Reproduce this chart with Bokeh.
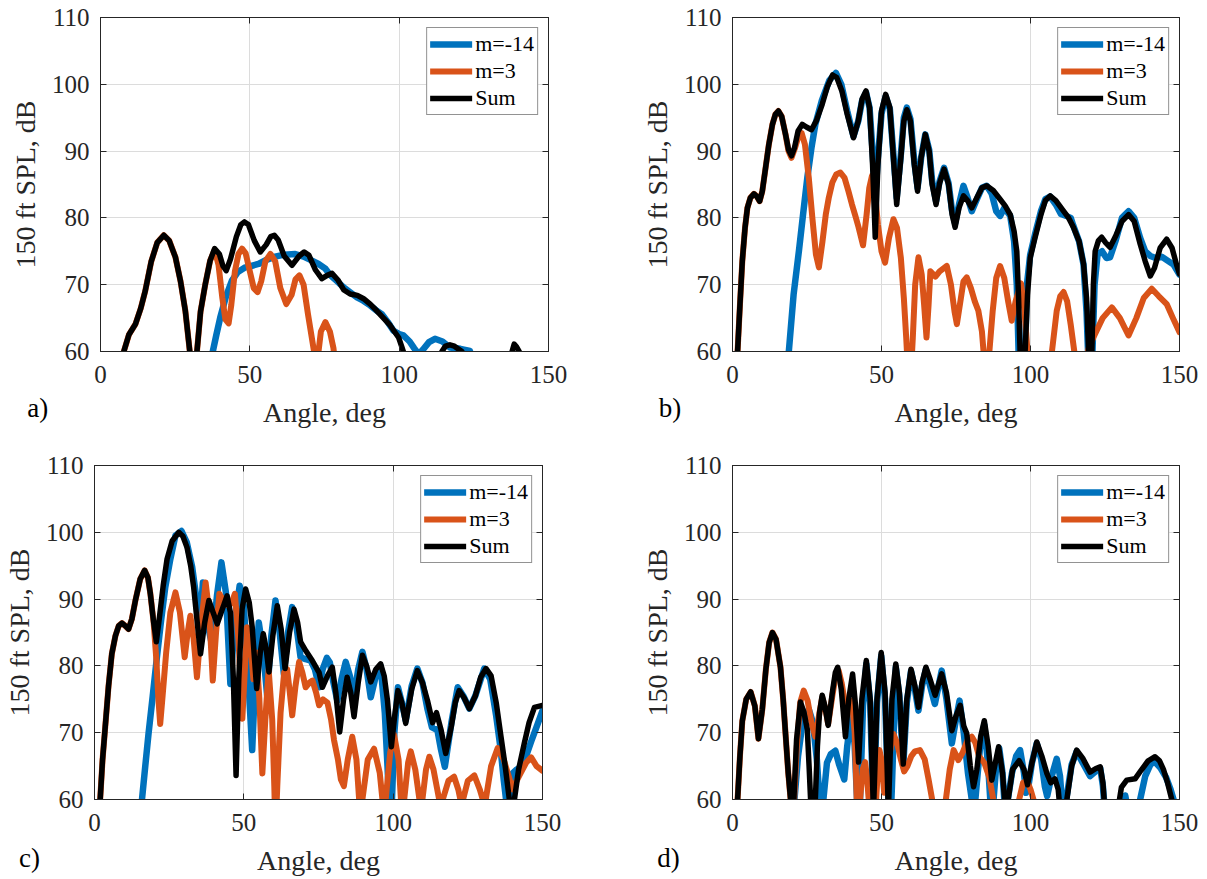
from bokeh.plotting import figure
from bokeh.layouts import column, row
from bokeh.models import LinearAxis, FixedTicker, Label, Range1d
from bokeh.embed import file_html
from bokeh.resources import INLINE

# ---------------------------------------------------------------------------
# 150 ft SPL (dB) versus polar angle (deg), four operating conditions a)-d).
# Each series is a list of (angle, SPL) pairs; values below 60 dB fall out of
# the plotted range.
# ---------------------------------------------------------------------------

A_M14 = [(36.5, 55), (37.6, 60), (38.8, 62.5), (40.1, 65.1), (42, 68.2), (44, 70.6), (46, 71.9),
         (48.5, 72.6), (50.5, 72.8), (52.9, 73.1), (55.5, 73.7), (58.5, 74.2), (61.5, 74.5),
         (65.2, 74.6), (68, 74.2), (70.8, 73.6), (73, 73.1), (75.3, 72.4), (77, 71.4), (79, 70.6),
         (81.4, 69.6), (83.5, 68.9), (85.9, 68.1), (88, 67.6), (90.3, 66.9), (92.2, 66.2),
         (94.2, 65.6), (96.2, 64.4), (98.1, 63.1), (100, 62.6), (101.4, 62.4), (103.5, 61.5),
         (105, 60.5), (106.5, 59.6), (108, 60.3), (110, 61.4), (112, 61.9), (114.5, 61.5),
         (117, 60.6), (120.5, 60.4), (123.7, 60.1), (124.5, 57)]
A_M3 = [(6.5, 55), (7.8, 60), (9.5, 62.5), (11.7, 64.1), (13.5, 66.5), (15, 69.1), (17, 73.5),
        (19, 76.3), (21.2, 77.4), (23, 76.6), (25.1, 74.1), (26.8, 70.5), (28.4, 66.1), (29.9, 60),
        (30.8, 52), (31.5, 52), (32.3, 60), (33.5, 66), (35.1, 70.1), (36.7, 73.6), (38.2, 75.2),
        (39.5, 73), (40.8, 68), (41.8, 64.8), (42.9, 64.2), (43.8, 67), (45, 72), (46.2, 74.6),
        (47.4, 75.4), (48.6, 74.7), (50, 72), (51.3, 69.5), (52.6, 68.9), (53.8, 70.5),
        (55.2, 73.5), (56.9, 74.6), (58.5, 73.5), (60.2, 69.5), (62.2, 67.1), (64, 68.5),
        (65.3, 70.8), (66.6, 71.4), (68, 70), (69.5, 65.5), (71.5, 60), (72.2, 57), (73, 60),
        (73.8, 63), (75.3, 64.4), (76.8, 63), (78, 60.5), (78.6, 58)]
A_SUM = [(6.5, 55), (7.8, 60), (9.5, 62.5), (11.7, 64.1), (13.5, 66.5), (15, 69.1), (17, 73.5),
         (19, 76.3), (21.2, 77.4), (23, 76.6), (25.1, 74.1), (26.8, 70.5), (28.4, 66.1),
         (29.9, 60), (30.8, 52), (31.5, 52), (32.3, 60), (33.5, 66), (35.1, 70.1), (36.7, 73.6),
         (38.2, 75.4), (39.8, 74.6), (41, 72.8), (42.1, 72.1), (43.5, 73.8), (45.5, 77.2),
         (47, 79), (48.2, 79.4), (49.5, 79), (51.5, 76.6), (53.5, 74.9), (55.5, 76), (57, 77.2),
         (58.2, 77.4), (59.5, 76.7), (61.5, 74.3), (64.1, 72.9), (66.5, 74.3), (68.2, 74.9),
         (69.8, 74.4), (72, 72.2), (74.1, 70.9), (75.9, 71.4), (77.5, 71.7), (79.5, 70.7),
         (81.5, 69.2), (83.6, 68.6), (86, 68.4), (88.1, 67.9), (90.3, 67.1), (92.5, 66.1),
         (95, 64.9), (97, 63.9), (99.8, 62.1), (100.8, 60.8), (101.4, 60), (102.5, 54),
         (108, 45), (113.5, 57), (114.3, 60), (115.5, 60.8), (117, 61.0), (118.5, 60.8),
         (121, 60), (122, 57), (130, 45), (137, 57), (137.8, 60), (138.5, 61.1), (139.3, 60.7),
         (140.2, 60), (141, 57)]

B_M14 = [(18.3, 52), (18.9, 60), (20.5, 68.5), (22.3, 75.1), (23.7, 80.6), (25.1, 86), (26.5, 90.5),
         (27.8, 94), (30, 97.6), (32.5, 100.6), (34.7, 101.7), (36.5, 100), (38.5, 96),
         (40.6, 92.2), (42.2, 94.5), (43.5, 97.6), (44.8, 98.8), (46, 96.5), (47, 90), (47.9, 83),
         (48.8, 89), (50, 95.6), (51.4, 98.2), (52.8, 96.3), (54, 89.5), (55.1, 83), (56.5, 89.5),
         (57.5, 95), (58.5, 96.5), (59.7, 94.8), (61, 88.5), (62.1, 84.5), (63.3, 89),
         (64.7, 92.5), (66, 90.2), (67, 85.5), (68.3, 82.5), (69.5, 85.5), (71, 87.5), (72.5, 85.2),
         (73.7, 81), (74.7, 79.2), (76, 82), (77.5, 84.8), (78.9, 83), (80.3, 81), (82, 82.8),
         (83.7, 84.5), (85.3, 84.8), (87, 83.6), (88.5, 81), (89.8, 80.3), (91.2, 81.5),
         (93.2, 80.3), (94.5, 76.5), (95.4, 70), (96, 60), (96.4, 52), (97.8, 52), (98.2, 60),
         (98.8, 70), (99.9, 74.5), (101.5, 77.5), (103.5, 81), (105, 82.8), (106.6, 83.2),
         (108.5, 82), (110.2, 80.6), (112, 80.3), (113.5, 80), (114.4, 78.8), (116.3, 76.5),
         (117.8, 73), (118.8, 66), (119.3, 60), (119.7, 52), (120.5, 52), (120.8, 60), (121.5, 70),
         (122.5, 74.5), (124, 75), (125.5, 74), (126.7, 74.1), (128.5, 76.5), (130.7, 80),
         (132.9, 81), (134.8, 80), (136.8, 77), (138.5, 75), (140.2, 74.3), (142, 74),
         (144, 74.2), (146, 73.6), (148, 73), (150, 71.5)]
B_M3 = [(1.2, 52), (1.7, 60), (2.5, 67), (3.3, 73.6), (4.2, 78.5), (5, 81.5), (6, 83), (7.2, 83.6),
        (8.2, 83.2), (9.1, 82.5), (10, 84), (11.1, 87.5), (12.2, 91), (13.4, 94), (14.4, 95.5),
        (15.4, 96), (16.5, 95.2), (17.8, 92.5), (18.8, 90), (19.8, 89), (21, 90.5), (22.2, 92.3),
        (23.2, 92.7), (24.3, 91), (25.6, 86), (26.8, 80), (28, 74.5), (29, 72.6), (30.2, 76.5),
        (31.3, 80.5), (32.3, 83), (33.5, 85.3), (34.8, 86.5), (36.2, 86.8), (37.6, 86),
        (38.9, 84), (40.1, 82), (41.3, 80.2), (42.3, 78.6), (43.8, 75.9), (45, 80.5), (45.9, 84.5),
        (46.8, 86.3), (47.8, 84), (48.8, 79), (50, 75), (51.2, 73.3), (52.5, 77), (54, 79.8),
        (55.2, 78.5), (56.5, 74), (57.5, 68), (58.3, 62), (59, 56), (59.8, 56), (60.5, 62),
        (61.3, 70), (62.4, 74.1), (63.5, 71.5), (64.3, 67), (65.1, 62.1), (65.8, 67), (66.4, 72),
        (68.1, 71.2), (69.5, 72), (71.9, 72.8), (73.3, 70), (74.5, 66), (75.3, 64.1), (76.3, 67),
        (77.5, 70.5), (78.6, 71.1), (80, 69.5), (81.3, 67.5), (82.5, 66.1), (83.7, 63),
        (84.6, 58), (85.3, 55), (86.2, 60), (87.3, 66), (88.5, 71), (89.8, 72.8), (91.2, 71),
        (92.5, 67.5), (93.7, 64.6), (95, 67.5), (96.8, 70.2), (98, 66), (99, 60), (99.6, 55),
        (106.5, 55), (107.2, 60), (108.8, 66.1), (110, 68.3), (111.1, 68.9), (112.3, 67.5),
        (113.5, 64), (114.7, 60), (115.5, 55), (116.7, 52), (118.3, 58), (119.5, 60.5),
        (121.1, 62.1), (124.2, 65), (127.3, 66.6), (130, 65), (132.9, 62.4), (135.5, 65),
        (138, 68), (140.7, 69.4), (143, 68.3), (145.7, 67.1), (147.8, 65), (150, 62.9)]
B_SUM = [(1.2, 52), (1.7, 60), (2.5, 67), (3.3, 73.6), (4.2, 78.5), (5, 81.5), (6, 83), (7.2, 83.6),
         (8.2, 83.2), (9.1, 82.5), (10, 84), (11.1, 87.5), (12.2, 91), (13.4, 94), (14.4, 95.5),
         (15.4, 96), (16.5, 95.2), (17.8, 92.5), (18.8, 90.2), (19.8, 89.3), (20.8, 90.5),
         (22, 93), (23.4, 94), (24.8, 93.6), (26.5, 93.2), (28.2, 94.6), (30.1, 97), (31.8, 99.6),
         (33.6, 101.4), (35, 101), (36.7, 99), (38.5, 95.5), (40.6, 92), (42.2, 94.5),
         (43.5, 97.8), (44.8, 99), (46, 96.5), (47, 88), (47.9, 77.1), (48.8, 88), (50, 96),
         (51.4, 98.5), (52.8, 96.5), (54, 89), (55.1, 82), (56.5, 89), (57.5, 94.5), (58.5, 96.2),
         (59.7, 94.5), (61, 88), (62.1, 84), (63.3, 89), (64.7, 92.5), (66, 90), (67, 85),
         (68.3, 82), (69.5, 85.2), (71, 87.3), (72.5, 85), (73.7, 80.5), (74.7, 78.6), (76, 81.5),
         (77.5, 83.3), (78.9, 82.6), (80.3, 81.5), (82, 83), (83.7, 84.5), (85.3, 84.8),
         (87.5, 84.1), (89.8, 82.8), (91.5, 81.8), (93.2, 80.5), (94.5, 78), (95.4, 75), (96, 68),
         (96.5, 60), (97, 52), (97.6, 52), (98.2, 60), (99, 68.5), (99.9, 74), (101.5, 77),
         (103.5, 80.5), (105, 82.6), (106.6, 83.3), (108.5, 82.6), (111.1, 81), (112.8, 80),
         (114.4, 78.6), (116.3, 76.5), (117.8, 73.1), (118.8, 68), (119.5, 60), (120, 52),
         (120.6, 60), (121.1, 70), (121.7, 75), (122.8, 76.6), (123.9, 77.1), (125.2, 76.3),
         (126.7, 75.6), (128.5, 77.2), (130.7, 79.5), (132.9, 80.5), (134.8, 79.5), (136.8, 76.1),
         (138.5, 73.5), (140.2, 71.3), (141.6, 72.5), (143.5, 75.5), (145.7, 76.8), (147.5, 75.5),
         (149, 73), (150, 71.6)]

C_M14 = [(15.4, 52), (15.9, 60), (17, 65), (18.1, 69.9), (19.5, 75.5), (20.9, 81.3), (22.3, 86.8),
         (23.7, 91.8), (25.4, 96), (27.1, 99.5), (29.1, 100.2), (30.9, 98.5), (32.7, 94.8),
         (34, 90.5), (34.9, 86.5), (35.6, 88), (36.3, 92.5), (37.2, 90), (38, 86), (39.4, 83),
         (41, 90.5), (42.5, 95.5), (44, 91), (45.5, 77.3), (47, 87), (48.6, 92), (50, 89),
         (51.5, 78), (52.8, 67.4), (54, 80), (55, 86.5), (56.5, 82), (57.8, 75.6), (59.2, 84.5),
         (60.6, 89.8), (62, 85), (63.4, 78.8), (64.8, 85), (66.2, 88.8), (67.6, 86), (69, 81.3),
         (70.7, 81), (72.4, 80.8), (73.8, 79.5), (75.2, 76.8), (76.4, 79.5), (77.8, 81.2),
         (78.8, 80.5), (80, 77.5), (81.3, 74.8), (82.7, 78), (84.1, 80.6), (85.5, 78.5),
         (86.9, 75.3), (88.3, 79.5), (89.7, 82.1), (91.1, 79.5), (92.5, 75.3), (94.2, 78.5),
         (95.8, 80), (97.2, 73), (98.1, 65), (98.6, 60), (99, 52), (99.6, 60), (100.4, 70),
         (101.6, 76.8), (102.9, 74.5), (104.2, 71.8), (106.2, 77), (108.1, 79.6), (109.8, 77.5),
         (111.5, 73.5), (113, 70.8), (114.8, 70.4), (116, 67.5), (117.3, 64.9), (119.5, 71.5),
         (121.6, 76.8), (123.5, 75.5), (125.5, 73.6), (127.5, 75.5), (130.5, 79.6), (132.5, 78),
         (134.5, 72.5), (136, 67.5), (137, 63), (137.8, 60), (138.4, 55), (139.2, 60), (140, 63.9),
         (141.4, 64.5), (142.8, 64.9), (144.5, 66.5), (146.3, 68.8), (148.3, 71.2), (150, 73.3)]
C_M3 = [(1.4, 52), (1.9, 60), (2.7, 66), (3.6, 70.9), (4.7, 77), (5.8, 81.8), (7, 84.5), (8.1, 86),
        (9.2, 86.4), (10.3, 86), (11.4, 85.5), (12.5, 87), (13.7, 89.8), (15.3, 93), (16.8, 94.3),
        (17.9, 93.2), (18.7, 90.8), (19.8, 86.5), (20.7, 81), (21.4, 75), (22, 71.3), (22.8, 75.5),
        (24, 82), (25.4, 88), (27.1, 91), (28.6, 88), (30.2, 81.3), (31.2, 85), (32.1, 87.5),
        (33.2, 84), (34.3, 78.3), (35.7, 86), (37.2, 92.5), (38.4, 88), (39.6, 77.8), (40.7, 85),
        (41.8, 90.8), (43.5, 89.5), (45, 89), (46, 89.5), (47, 90.8), (48.2, 84), (49.5, 72.1),
        (50.3, 79), (51.1, 85.8), (52.3, 83), (53.2, 78), (54.2, 82), (55.2, 75), (56.2, 63.9),
        (57.2, 72), (58.3, 79.5), (59.5, 72), (60.2, 62), (60.6, 55), (61.2, 62), (62.3, 73),
        (63.5, 79), (64.5, 79.5), (65.4, 76), (66.2, 72.6), (67.3, 77), (68.5, 80.6), (69.6, 79),
        (70.7, 76.8), (72, 77.5), (73, 77.8), (74.2, 76), (75.2, 74.1), (76.5, 75), (78, 74.5),
        (79.2, 72), (80.2, 68.9), (81.5, 66), (82.5, 63), (83.5, 62), (84.8, 66), (86.3, 69.4),
        (87.7, 66), (88.6, 60), (89.1, 55), (89.7, 60), (91.5, 66), (93.6, 67.6), (95.5, 64),
        (96.4, 60), (96.9, 55), (97.5, 60), (99, 67), (100.3, 69.7), (101.8, 66), (102.6, 60),
        (103.1, 55), (103.7, 60), (105, 65.5), (105.9, 67.2), (107.4, 64.5), (108.8, 60),
        (109.3, 55), (109.8, 60), (111, 64.5), (112.1, 66.4), (113.5, 64.5), (115.4, 60),
        (116, 55), (116.6, 60), (118.5, 62.8), (120.4, 63.4), (121.8, 61.5), (122.5, 60),
        (122.9, 55), (123.4, 60), (125, 62.8), (127.2, 63.6), (129, 61.5), (130, 60), (130.5, 55),
        (131, 60), (132.8, 65), (135, 67.7), (137, 66), (139, 63), (140, 61.5), (141, 62.5),
        (142.5, 63.8), (144.5, 65.5), (146.2, 66.3), (148, 65), (150, 64.3)]
C_SUM = [(1.4, 52), (1.9, 60), (2.7, 66), (3.6, 70.9), (4.7, 77), (5.8, 81.8), (7, 84.5), (8.1, 86),
         (9.2, 86.4), (10.3, 86), (11.4, 85.5), (12.5, 87), (13.7, 89.8), (15.3, 93), (16.8, 94.3),
         (17.9, 93.2), (18.7, 90.8), (19.8, 86.5), (20.7, 83.6), (21.8, 87.5), (23, 92), (24.3, 96),
         (26, 98.7), (28.2, 100), (29.6, 99.4), (31, 97.7), (32.2, 95), (33.2, 91.8), (34.4, 86.5),
         (35.5, 81.8), (36.9, 86.5), (38.3, 89.8), (39.7, 88), (41.1, 86.3), (42.8, 88.5),
         (44.4, 90.5), (45.5, 88), (46.5, 78), (47.4, 63.6), (48.3, 78), (49.4, 88.5),
         (50.6, 91.5), (51.8, 89.5), (52.8, 85.8), (54.3, 76.6), (55.5, 82), (56.5, 84.8),
         (57.5, 82.5), (58.4, 79.1), (59.7, 84.5), (61.2, 89), (62.5, 85.5), (63.8, 79.6),
         (65.3, 85), (66.8, 88.5), (68, 86.5), (69, 83.6), (70.7, 82.3), (72.9, 80.8), (75.2, 79),
         (76.3, 76.8), (78, 78.5), (79.6, 79.8), (80.8, 76), (82.1, 70.1), (83.4, 75), (84.6, 78.3),
         (85.8, 76), (86.9, 72.4), (88.3, 77.5), (89.7, 81.6), (91.1, 80), (92.5, 77.6),
         (94.2, 79.5), (95.8, 80.3), (97, 78.5), (98.1, 74.8), (99.4, 67.9), (100.5, 72.5),
         (101.6, 76.3), (102.9, 74.5), (104.2, 71.4), (106.2, 76.5), (108.1, 79.3), (109.8, 77.5),
         (111.5, 74.8), (113.2, 71.5), (114.5, 73), (116, 70.5), (117.6, 66.9), (119.5, 71),
         (120.8, 74.5), (122.1, 76.3), (123.8, 75.2), (125.5, 73.6), (127.5, 75.5), (129.3, 78.3),
         (131.1, 79.6), (132.8, 78.5), (134.5, 74.5), (136.1, 69.4), (137.5, 65), (138.9, 60),
         (139.7, 52), (140.6, 60), (142, 64.5), (143.9, 68.4), (145.5, 71.5), (147.3, 73.8),
         (150, 74.1)]

D_M14 = [(19.8, 52), (20.8, 60), (22, 66.5), (23.5, 71.5), (25.6, 73.5), (27, 71.5), (28.3, 66),
         (29.2, 60), (29.8, 52), (30.5, 60), (31.7, 65.5), (33, 66.8), (34.5, 67.3), (35.8, 65.2),
         (37.5, 63), (38.5, 68), (40.1, 73.5), (41, 68), (41.8, 60), (42.3, 55), (42.8, 60),
         (43.8, 74), (44.9, 80.3), (46.2, 74.5), (47.3, 58), (48.5, 74.5), (49.9, 81.5),
         (51.2, 75), (52.3, 60), (52.9, 55), (53.5, 62), (54.8, 79.8), (56, 75.5), (57.3, 65),
         (58.5, 74.5), (59.9, 79.2), (61.2, 76.5), (62.4, 73.3), (63.6, 77), (64.9, 79.5),
         (66.3, 77), (67.9, 74.3), (70.2, 79.3), (71.8, 75), (73.6, 68.4), (75, 72), (76.2, 74.8),
         (77.6, 70), (79, 64), (80.3, 60), (80.9, 55), (81.5, 60), (83, 67.5), (84.5, 71.2),
         (85.8, 65), (86.5, 60), (87, 55), (87.6, 60), (88.5, 65), (89.5, 67.7), (90.6, 64),
         (91.2, 60), (91.8, 55), (92.4, 60), (93.8, 64), (95.2, 66.5), (96.5, 67.4), (97.8, 64),
         (98.5, 61), (99.3, 62), (100.5, 65.5), (102.1, 68.4), (103.6, 66), (104.8, 62),
         (105.6, 60.5), (106.8, 63), (108.8, 66.1), (109.9, 63.5), (110.5, 60), (111, 55),
         (112, 60), (113.8, 65.2), (115.5, 67.2), (117.5, 65.5), (120, 63.5), (121.8, 64.2),
         (123.4, 64.7), (124.3, 62), (125, 58), (126, 52), (130.8, 58), (131.8, 60.6),
         (132.8, 58), (135.5, 52), (136.8, 60), (138.5, 63.5), (140.3, 65.3), (141.8, 65.6),
         (143.5, 64.8), (145.5, 63.3), (147, 61.5), (148, 60), (148.5, 55)]
D_M3 = [(1.2, 52), (1.7, 60), (2.5, 66.5), (3.3, 71.8), (4.6, 75), (6.1, 76.1), (7.5, 74),
        (8.7, 69.1), (10, 73.5), (11.2, 79.5), (12.3, 83.5), (13.4, 85), (14.6, 84), (16.1, 79.8),
        (17, 75), (17.8, 69.8), (18.7, 64), (19.5, 60), (20, 54), (20.7, 60), (21.6, 68),
        (22.7, 74.5), (23.9, 76.3), (25.2, 74.8), (26.5, 71.5), (27.8, 69.4), (29, 72.5),
        (30.1, 75.3), (31.2, 73.5), (32.1, 71.3), (33.5, 75.5), (34.6, 78.5), (35.6, 79.3),
        (36.6, 77.5), (37.7, 74.5), (38.9, 73.8), (40.1, 74.8), (41, 70), (41.5, 63), (41.8, 58),
        (42.2, 55), (42.8, 60), (43.7, 64.5), (44.5, 65.6), (45.2, 63), (45.7, 60), (46.2, 55),
        (47.5, 55), (48.2, 60), (48.8, 64.5), (49.3, 67.4), (50, 66), (50.9, 61), (51.7, 62.5),
        (52.8, 67), (54, 69.8), (55.2, 68.5), (56.5, 66), (57.6, 64.2), (58.7, 65), (60, 66.5),
        (61.2, 67.2), (62.9, 67.4), (64.5, 66), (65.8, 63), (67, 60), (67.8, 55), (70.5, 55),
        (71.6, 60), (72.9, 64.5), (74.2, 67.4), (75.8, 65.9), (77.2, 67), (78.8, 68.8),
        (80.3, 69.4), (81.5, 68.5), (82.7, 66.5), (84.5, 65.5), (86.2, 63.3), (87.5, 60),
        (88.1, 55), (95, 55), (96.2, 60), (97.5, 62.5), (98.8, 62.9), (100, 61.5), (101, 60),
        (101.6, 55)]
D_SUM = [(1.2, 52), (1.7, 60), (2.5, 66.5), (3.3, 71.8), (4.6, 75), (6.1, 76.1), (7.5, 74),
         (8.7, 69.1), (10, 73.5), (11.2, 79.5), (12.3, 83.5), (13.4, 85), (14.6, 84), (16.1, 79.8),
         (17, 75), (17.8, 69.8), (18.7, 64), (19.5, 60), (20, 54), (20.6, 60), (21.5, 69),
         (22.8, 74.6), (24, 73), (25.1, 70.5), (25.7, 65), (26.2, 60), (27, 54), (27.8, 60),
         (28.5, 68), (29.2, 73), (30.1, 75.6), (31, 74), (32.1, 71.1), (33.5, 76), (34.5, 79),
         (35.3, 79.8), (36.5, 76.5), (37.9, 69.4), (39, 75), (40.3, 78.8), (41.3, 74), (42.3, 65.6),
         (43.4, 75), (44.9, 80.8), (46.2, 75), (47.3, 58), (48.5, 75), (49.9, 82), (51.2, 76),
         (52.3, 58), (53.5, 75), (54.8, 80.3), (56, 76), (57.3, 65.3), (58.5, 75), (59.9, 79.5),
         (61.2, 77), (62.4, 73.8), (63.6, 77.5), (64.9, 79.8), (66.3, 78), (68, 75.6),
         (70.2, 78.8), (71.8, 76), (73.6, 70.3), (75, 72.5), (76.4, 74.1), (77.6, 71), (78.6, 69.9),
         (79.8, 65), (80.9, 61.9), (82, 64.5), (83.3, 69.5), (84.5, 71.8), (85.8, 68), (87, 62.9),
         (88.2, 65.5), (89.3, 67.9), (90.6, 64), (91.3, 60), (91.8, 55), (92.5, 60), (94, 64.5),
         (96.2, 65.8), (97.8, 64.5), (99, 62.2), (100.5, 65.5), (102.1, 68.6), (103.8, 66.5),
         (105.5, 63.9), (106.8, 62.5), (108.2, 63.1), (109.3, 61.5), (110, 58), (111, 54),
         (112.2, 60), (113.8, 65), (115.5, 67.4), (117.5, 66.2), (120, 64.1), (121.8, 64.6),
         (123.4, 64.9), (124.3, 62.5), (125, 58), (127, 52), (129.5, 59), (130.5, 61.8),
         (132.3, 62.9), (135.1, 63.1), (137, 64.3), (139.5, 65.8), (141.8, 66.4), (143.3, 65.8),
         (144.6, 64.5), (146, 62.5), (147.4, 60), (148, 55)]

X_TICKS = [0, 50, 100, 150]
Y_TICKS = [60, 70, 80, 90, 100, 110]
SERIES_LABELS = ["m=-14", "m=3", "Sum"]
PANEL_TAGS = ["a)", "b)", "c)", "d)"]

FONT = "Liberation Serif"
COLORS = ["#0072BD", "#D95319", "#000000"]
WIDTHS = [6.5, 6, 5.5]
AXIS_COLOR = "#262626"
GRID_COLOR = "#dcdcdc"


def style_axis(ax, ticks, show_labels):
    ax.ticker = FixedTicker(ticks=ticks)
    ax.axis_line_color = AXIS_COLOR
    ax.major_tick_line_color = AXIS_COLOR
    ax.major_tick_in = 6
    ax.major_tick_out = 0
    ax.minor_tick_line_color = None
    ax.major_label_text_font = FONT
    ax.major_label_text_color = AXIS_COLOR
    if show_labels:
        ax.major_label_text_font_size = "25px"
        ax.axis_label_text_font = FONT
        ax.axis_label_text_font_size = "28px"
        ax.axis_label_text_font_style = "normal"
        ax.axis_label_text_color = AXIS_COLOR
    else:
        ax.major_label_text_font_size = "1px"
        ax.major_label_text_alpha = 0
        ax.major_label_standoff = 0


def make_panel(tag, series, width, height, left, right, top, bottom, tag_pos, tag_side):
    p = figure(width=width, height=height, x_range=Range1d(0, 150), y_range=Range1d(60, 110),
               output_backend="svg", toolbar_location=None,
               min_border_left=left, min_border_right=right,
               min_border_top=top, min_border_bottom=bottom)
    p.background_fill_color = "white"
    p.border_fill_color = "white"
    p.outline_line_color = AXIS_COLOR
    p.grid.grid_line_color = GRID_COLOR
    p.grid.grid_line_width = 1
    p.xgrid.ticker = FixedTicker(ticks=X_TICKS)
    p.ygrid.ticker = FixedTicker(ticks=Y_TICKS)

    xax = p.xaxis[0]
    style_axis(xax, X_TICKS, True)
    xax.axis_label = "Angle, deg"
    xax.major_label_standoff = 14
    xax.axis_label_standoff = 11

    yax = p.yaxis[0]
    style_axis(yax, Y_TICKS, True)
    yax.axis_label = "150 ft SPL, dB"
    yax.major_label_standoff = 11
    yax.axis_label_standoff = 8

    top_axis = LinearAxis()
    style_axis(top_axis, X_TICKS, False)
    p.add_layout(top_axis, "above")
    right_axis = LinearAxis()
    style_axis(right_axis, Y_TICKS, False)
    p.add_layout(right_axis, "right")

    for pts, label, color, lw in zip(series, SERIES_LABELS, COLORS, WIDTHS):
        xs = [a for a, _ in pts]
        ys = [s for _, s in pts]
        p.line(xs, ys, line_color=color, line_width=lw, line_join="round",
               line_cap="round", legend_label=label)

    leg = p.legend[0]
    leg.location = "top_right"
    leg.margin = 10
    leg.padding = 3
    leg.spacing = 1
    leg.label_height = 26
    leg.glyph_height = 26
    leg.glyph_width = 42
    leg.label_standoff = 3
    leg.label_text_font = FONT
    leg.label_text_font_size = "22px"
    leg.label_text_color = "#000000"
    leg.border_line_color = AXIS_COLOR
    leg.border_line_width = 1
    leg.background_fill_color = "white"
    leg.background_fill_alpha = 1

    # panel tag in the lower-left corner, outside the frame; it is hosted in a
    # side panel that has spare room so the frame keeps its size
    p.add_layout(Label(x=tag_pos[0], y=tag_pos[1], text=tag, text_font=FONT,
                       text_font_size="27px", text_color="#000000",
                       text_align="center", text_baseline="middle"), tag_side)
    return p


pa = make_panel(PANEL_TAGS[0], [A_M14, A_M3, A_SUM], 588, 435, 100, 40, 17, 84,
                (-21, 51.5), "right")
pb = make_panel(PANEL_TAGS[1], [B_M14, B_M3, B_SUM], 619, 435, 144, 28, 17, 84,
                (-21, 51.5), "left")
pc = make_panel(PANEL_TAGS[2], [C_M14, C_M3, C_SUM], 582, 444, 94, 40, 30, 80,
                (-21.8, 51.3), "right")
pd = make_panel(PANEL_TAGS[3], [D_M14, D_M3, D_SUM], 625, 444, 150, 28, 30, 80,
                (-21.5, 51.3), "left")

layout = column(row(pa, pb, spacing=0), row(pc, pd, spacing=0), spacing=0)

with open("out.html", "w") as f:
    f.write(file_html(layout, INLINE))
